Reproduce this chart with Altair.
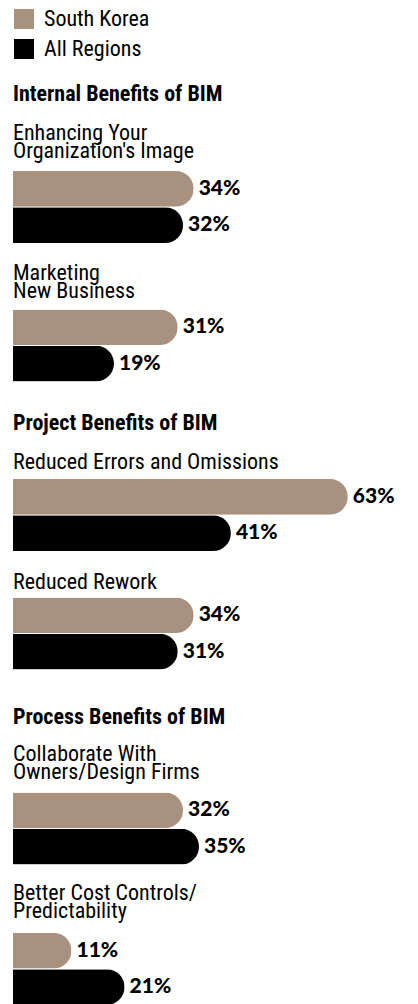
import altair as alt
import pandas as pd

series = ["South Korea", "All Regions"]
colors = ["#a8927f", "#000000"]

sections = ["Internal Benefits of BIM", "Project Benefits of BIM", "Process Benefits of BIM"]
items = [
    ["Enhancing Your", "Organization's Image"],
    ["Marketing", "New Business"],
    ["Reduced Errors and Omissions"],
    ["Reduced Rework"],
    ["Collaborate With", "Owners/Design Firms"],
    ["Better Cost Controls/", "Predictability"],
]
south_korea = [34, 31, 63, 34, 32, 11]
all_regions = [32, 19, 41, 31, 35, 21]

LABEL_FONT = "Liberation Sans Narrow, Arial Narrow, Roboto Condensed, Roboto"
VALUE_FONT = "Lato"
W = 372  # 0..70 %

item_offsets = [8.1, 6.1, 4.6, 3.6, 8.1, 10.1]
section_offsets = [16, 16.5, 14.5]
inner_spacing = [18.4, 19.4, 16.4]


def item_chart(i):
    df = pd.DataFrame({"series": series, "value": [south_korea[i], all_regions[i]]})
    df["label"] = df["value"].astype(str) + "%"
    base = alt.Chart(df).encode(
        y=alt.Y("series:N", sort=series, axis=None,
                scale=alt.Scale(paddingInner=0.02, paddingOuter=0)),
        x=alt.X("value:Q", axis=None, scale=alt.Scale(domain=[0, 70])),
    )
    bars = base.mark_bar(cornerRadiusEnd=18).encode(
        color=alt.Color("series:N", scale=alt.Scale(domain=series, range=colors),
                        legend=alt.Legend(title=None))
    )
    text = base.mark_text(align="left", baseline="middle", dx=5, font=VALUE_FONT,
                          fontWeight=900, fontSize=21, color="black").encode(text="label:N")
    return alt.layer(bars, text).properties(
        width=W, height=72,
        title=alt.TitleParams(text=items[i], anchor="start", font=LABEL_FONT, fontSize=22,
                              fontWeight="normal", lineHeight=18, color="black",
                              offset=item_offsets[i]),
    )


secs = []
for s, name in enumerate(sections):
    secs.append(alt.vconcat(
        item_chart(2 * s), item_chart(2 * s + 1), spacing=inner_spacing[s],
        title=alt.TitleParams(text=name, anchor="start", font=LABEL_FONT, fontSize=22,
                              fontWeight="bold", color="black", offset=section_offsets[s]),
    ))

upper = alt.vconcat(secs[0], secs[1], spacing=29)
chart = alt.vconcat(upper, secs[2], spacing=35.5).properties(
    padding={"left": 5, "top": 0, "right": 5, "bottom": 0}
).configure_view(stroke=None).configure_legend(
    orient="top", direction="vertical", symbolType="square", symbolSize=400,
    symbolStrokeWidth=0, labelFont=LABEL_FONT, labelFontSize=22, labelColor="black",
    rowPadding=8, labelOffset=9, offset=22.5, padding=0,
)

chart.save("out.html", embed_options={"renderer": "svg", "actions": False})
